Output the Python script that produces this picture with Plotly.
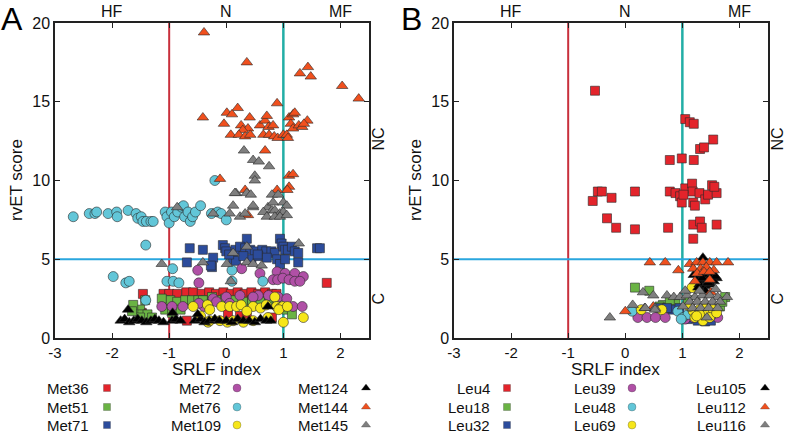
import plotly.graph_objects as go

# ---- Panel A: methionine residues (SRLF index, rvET score) ----
met36_x = [-1.46, 1.76, -1.1, -1.0, -0.86, -0.7, -0.58, -0.43, -0.3, -0.18,
           -0.05, 0.08, 0.2, 0.32, 0.44, 0.56, 0.68, 0.8, 0.88, 0.03,
           0.24, 0.36, 0.8, -0.69, -1.48]
met36_y = [2.8, 3.5, 2.8, 2.8, 2.8, 2.9, 2.9, 2.8, 2.9, 2.8,
           2.9, 2.8, 2.9, 2.8, 2.9, 2.8, 2.9, 2.8, 2.8, 1.5,
           1.4, 1.3, 1.3, 1.1, 1.6]
met51_x = [-1.42, -1.51, -1.47, -1.38, -1.07, -0.98, -0.86, -0.72, -0.6, -0.49,
           -0.37, -0.25, -1.51, -1.30, -1.07, -0.41, 1.06, 1.15, -1.13, -0.15,
           -0.02, 0.12, 0.3, 0.45, 0.6, 0.75, 0.88, -1.63, -1.65, -0.95, -0.8]
met51_y = [2.4, 1.8, 1.5, 1.5, 2.4, 2.4, 2.3, 2.4, 2.4, 2.4,
           2.4, 2.6, 1.3, 1.3, 1.8, 2.4, 1.8, 1.5, 2.5, 2.4,
           2.5, 2.4, 2.3, 2.4, 2.3, 2.4, 2.5, 2.1, 1.7, 1.6, 1.8]
met71_x = [0.36, -0.06, -0.02, 0.0, -0.23, -0.41, 0.16, 0.24, 0.33, 0.42,
           0.5, 0.63, 0.7, 0.79, 0.85, 0.94, 0.97, 1.0, 1.03, 1.08,
           1.15, 1.2, 1.26, 0.89, 0.94, 1.03, 1.26, 0.12, 0.17, -0.25,
           1.59, 1.64, 0.44, 0.56, 0.71, -0.64, -0.69, -0.27, 0.05, 0.3, 0.55]
met71_y = [6.3, 5.9, 5.7, 5.5, 5.1, 5.6, 5.6, 5.8, 5.7, 5.6,
           5.5, 5.6, 5.5, 5.5, 5.4, 6.3, 6.0, 5.8, 5.6, 5.6,
           5.8, 5.5, 5.4, 5.0, 4.7, 5.0, 4.8, 5.0, 4.9, 4.5,
           5.7, 5.7, 5.0, 5.2, 5.1, 5.7, 4.8, 4.6, 5.3, 5.2, 5.3]
met72_x = [0.27, 0.59, 0.89, 1.03, 1.2, 1.35, 0.82, 0.9, 0.99, 1.1,
           1.2, 1.29, -0.5, -0.48, -1.13, -0.95, -0.76, -0.23, 0.0, 0.24,
           0.56, 0.74, 0.91, 1.06, 1.17, 1.33, -0.39, -0.17, 0.06, 0.47, -0.48]
met72_y = [4.4, 4.1, 4.2, 4.1, 4.1, 3.9, 3.7, 3.7, 3.8, 3.7,
           3.6, 3.6, 4.3, 3.5, 2.0, 2.0, 2.0, 2.5, 2.6, 2.7,
           2.7, 2.7, 2.6, 2.5, 2.0, 2.0, 2.0, 2.3, 2.2, 2.6, 2.2]
met76_x = [-2.68, -2.40, -2.30, -2.27, -2.07, -1.92, -1.91, -1.72, -1.58, -1.55,
           -1.49, -1.46, -1.40, -1.32, -1.28, -1.07, -1.04, -1.0, -0.96, -0.91,
           -0.85, -0.78, -0.75, -0.73, -0.67, -0.63, -0.59, -0.54, -0.45, -0.26,
           -0.15, -0.09, 0.0, -0.2, -1.41, -1.98, -1.76, -1.70, -0.94, -1.04,
           -0.93, -0.83, -1.41, 0.1, 0.1, 0.64]
met76_y = [7.7, 7.9, 7.9, 8.0, 7.9, 8.0, 7.7, 8.1, 7.9, 7.6,
           7.7, 7.4, 7.4, 7.4, 7.4, 8.0, 7.7, 7.3, 8.0, 7.7,
           8.0, 8.3, 8.4, 7.7, 8.0, 7.4, 7.7, 8.0, 8.4, 7.9,
           8.0, 7.9, 7.5, 10.0, 5.9, 3.9, 3.5, 3.6, 4.4, 3.6,
           3.6, 3.5, 2.4, 4.3, 3.6, 3.6]
met109_x = [-0.58, -0.33, -0.29, -0.08, 0.06, 0.18, 0.26, 0.47, 0.6, 0.7,
            0.85, 0.88, 0.94, 0.99, 1.35, 1.0, -0.32, -0.11, 0.12, 0.3,
            0.47, 0.73, 0.92, 1.07, -0.29, 0.02, -0.45, 0.36]
met109_y = [2.0, 2.1, 1.8, 2.0, 2.0, 2.0, 2.1, 2.0, 1.9, 2.1,
            2.6, 2.0, 1.9, 2.0, 1.3, 1.0, 1.0, 1.1, 1.1, 1.0,
            1.1, 1.3, 1.8, 2.0, 1.1, 1.0, 1.4, 1.7]
met124_x = [-1.85, -1.78, -1.7, -1.62, -1.55, -1.48, -1.4, -1.32, -1.25, -1.18,
            -1.1, -0.95, -0.88, -0.8, -0.55, -0.45, -0.38, -0.3, -0.2, -0.12,
            0.0, 0.1, 0.2, 0.3, 0.4, 0.5, 0.6, 0.7, 0.78, -1.72, -0.94, -0.5, 0.73]
met124_y = [1.1, 1.2, 1.0, 1.1, 1.2, 1.1, 1.0, 1.1, 1.2, 1.1,
            1.0, 1.1, 1.2, 1.1, 1.1, 1.2, 1.0, 1.1, 1.2, 1.1,
            1.1, 1.0, 1.2, 1.1, 1.1, 1.0, 1.2, 1.1, 1.1, 1.8, 1.6, 1.5, 2.0]
met144_x = [-0.39, 0.36, 1.29, 1.43, 1.48, 2.03, 2.32, 0.89, -0.41, 0.01,
            0.2, 0.1, 0.41, -0.04, 0.26, 0.38, 0.29, 0.08, 0.22, 0.33,
            0.42, 0.59, 0.68, 0.71, 0.74, 0.82, 0.65, 0.75, 0.84, 0.9,
            1.0, 1.06, 1.08, 1.1, 1.17, 1.2, 1.13, 1.17, 1.27, 1.33,
            1.42, 1.36, -0.11, 1.1, 1.17, 0.33, 0.89, 1.1, 1.07, 0.68, 0.38]
met144_y = [19.4, 17.5, 16.8, 17.2, 16.6, 16.0, 15.2, 14.9, 14.0, 14.3,
            14.6, 14.2, 14.0, 13.6, 13.5, 13.3, 13.2, 12.9, 12.9, 12.8,
            12.9, 13.5, 13.8, 14.1, 13.4, 13.5, 12.9, 12.9, 12.8, 12.7,
            12.9, 12.9, 12.7, 14.0, 14.2, 14.3, 13.6, 13.3, 13.5, 13.4,
            13.8, 13.6, 10.1, 10.3, 10.4, 9.4, 9.4, 9.6, 9.4, 11.9, 7.8]
met145_x = [0.31, 0.47, 0.57, 0.75, 0.5, 0.5, 0.17, 0.36, 0.43, 0.8,
            0.91, 0.47, 0.73, 0.82, 1.0, 1.06, 0.65, 0.8, 0.85, 0.94,
            1.0, 0.71, 0.85, 0.94, 1.06, -0.86, 0.12, 0.15, 0.47, -0.23,
            0.06, 0.24, 0.33, 0.12, 0.36, 1.27, -1.13, -0.41, 0.01, 0.36,
            0.47, 0.62, 0.08]
met145_y = [11.9, 11.3, 11.2, 10.9, 10.3, 10.0, 9.2, 9.2, 9.1, 9.1,
            9.1, 8.3, 8.3, 8.6, 8.6, 8.4, 8.0, 8.1, 8.1, 7.9,
            8.0, 7.7, 7.7, 7.7, 7.8, 8.3, 8.4, 9.2, 8.4, 7.9,
            7.9, 7.7, 7.9, 5.4, 5.8, 6.0, 4.7, 4.8, 4.7, 4.8,
            4.7, 4.6, 3.6]

# ---- Panel B: leucine residues ----
leu4_x = [-0.53, 1.05, 1.13, 1.2, 1.31, 1.38, 1.54, 0.78, 0.99, 1.2,
          -0.57, -0.48, -0.41, -0.24, 0.17, -0.32, -0.16, 0.17, 0.75, 0.78,
          0.88, 0.96, 1.05, 0.99, 1.17, 1.18, 1.19, 1.22, 1.3, 1.4,
          1.45, 1.52, 1.6, 1.19, 1.31, 1.34, 1.6, 1.19, 1.02, 1.56]
leu4_y = [15.7, 13.9, 13.7, 13.6, 12.0, 12.1, 12.6, 11.3, 11.4, 11.3,
          8.7, 9.3, 9.3, 8.9, 9.3, 7.6, 7.0, 6.9, 7.0, 9.3,
          9.2, 9.0, 9.5, 8.6, 9.8, 9.3, 8.6, 8.4, 9.2, 8.8,
          9.1, 9.7, 9.2, 7.2, 7.4, 7.0, 7.2, 6.3, 9.1, 9.6]
leu18_x = [0.17, 0.42, 0.66, 0.88, 0.78, 1.1, 1.75, 1.66, 1.7, 0.6]
leu18_y = [3.2, 3.0, 2.1, 2.3, 2.4, 2.4, 2.6, 2.0, 2.3, 2.0]
leu32_x = [0.82, 0.95, 1.27, 1.4, 1.2, 1.5, 0.61, 0.73, 1.1, 1.35, 1.55]
leu32_y = [1.8, 1.9, 1.1, 1.05, 1.5, 1.1, 1.9, 1.9, 1.2, 1.3, 1.4]
leu39_x = [0.22, 0.38, 0.53, 0.7, 1.62, 1.19, 1.5, 1.05, 1.35]
leu39_y = [1.3, 1.3, 1.3, 1.3, 1.3, 1.3, 1.4, 1.2, 1.2]
leu48_x = [0.12, 0.92, 1.01, 1.1, 0.98]
leu48_y = [1.7, 1.7, 1.3, 1.5, 1.2]
leu69_x = [0.28, 0.64, 1.17, 1.19, 1.3, 1.43, 1.54, 1.22, 1.36, 1.48,
           1.3, 1.4, 1.13, 1.25, 1.6]
leu69_y = [1.8, 1.8, 3.2, 1.7, 1.8, 1.7, 1.8, 1.3, 1.1, 1.3,
           1.5, 2.1, 2.0, 1.4, 1.6]
leu105_x = [1.2, 1.3, 1.4, 1.5, 1.6, 1.25, 1.35, 1.45, 1.55, 1.3,
            1.4, 1.5, 1.4, 1.36, 1.45, 1.35, 1.28, 1.58]
leu105_y = [4.0, 3.9, 4.0, 3.9, 3.8, 3.7, 3.6, 3.7, 3.6, 3.4,
            3.3, 3.4, 3.0, 5.1, 3.5, 3.8, 3.2, 3.9]
leu112_x = [0.43, 0.7, 0.93, 1.8, 1.13, 1.25, 1.36, 1.48, 1.6, 1.19,
            1.32, 1.42, 1.55, 1.26, 1.38, 1.48, 1.22, 1.48, 0.49, 0.0, 1.5]
leu112_y = [4.8, 4.8, 4.3, 4.8, 4.7, 4.8, 4.8, 4.8, 4.8, 4.4,
            4.4, 4.5, 4.3, 4.1, 4.2, 4.2, 3.6, 3.7, 2.0, 1.7, 2.9]
leu116_x = [-0.27, 0.13, 0.31, 0.49, 0.34, 0.52, 0.73, 0.85, 0.96, 1.08,
            1.22, 1.35, 1.48, 1.62, 1.78, 1.13, 1.26, 1.4, 1.53, 1.66,
            1.01, 1.18, 1.32, 1.46, 1.62, 1.43, 0.52, 0.35, 1.58, 1.05, 1.3]
leu116_y = [1.3, 2.1, 2.9, 2.7, 1.9, 1.9, 2.7, 2.6, 2.6, 2.7,
            2.6, 2.7, 2.7, 2.6, 2.6, 2.3, 2.3, 2.3, 2.3, 2.3,
            2.0, 1.9, 1.9, 1.9, 1.9, 1.3, 1.8, 1.9, 3.1, 3.0, 3.0]

x_ticks = [-3, -2, -1, 0, 1, 2]
x_tick_text = ["-3", "-2", "-1", "0", "1", "2"]
y_ticks = [0, 5, 10, 15, 20]
region_labels = ["HF", "N", "MF"]
region_pos = [-2, 0, 2]

W, H = 787, 434
FONT = "Liberation Sans, Arial, sans-serif"

RED = "#e3242b"
GREEN = "#6ab344"
BLUE = "#2c4c9c"
PURPLE = "#b050a6"
CYAN = "#62c6d8"
YELLOW = "#f6e61a"
BLACK = "#000000"
ORANGE = "#f0501e"
GRAY = "#7f7f7f"

panel_a = [
    ("Met36", met36_x, met36_y, "square", RED),
    ("Met51", met51_x, met51_y, "square", GREEN),
    ("Met71", met71_x, met71_y, "square", BLUE),
    ("Met72", met72_x, met72_y, "circle", PURPLE),
    ("Met76", met76_x, met76_y, "circle", CYAN),
    ("Met109", met109_x, met109_y, "circle", YELLOW),
    ("Met124", met124_x, met124_y, "triangle-up", BLACK),
    ("Met144", met144_x, met144_y, "triangle-up", ORANGE),
    ("Met145", met145_x, met145_y, "triangle-up", GRAY),
]
panel_b = [
    ("Leu4", leu4_x, leu4_y, "square", RED),
    ("Leu18", leu18_x, leu18_y, "square", GREEN),
    ("Leu32", leu32_x, leu32_y, "square", BLUE),
    ("Leu39", leu39_x, leu39_y, "circle", PURPLE),
    ("Leu48", leu48_x, leu48_y, "circle", CYAN),
    ("Leu69", leu69_x, leu69_y, "circle", YELLOW),
    ("Leu105", leu105_x, leu105_y, "triangle-up", BLACK),
    ("Leu112", leu112_x, leu112_y, "triangle-up", ORANGE),
    ("Leu116", leu116_x, leu116_y, "triangle-up", GRAY),
]

SIZES = {"square": 9, "circle": 10, "triangle-up": 10}
LEG_SIZES = {"square": 7, "circle": 8, "triangle-up": 8}

fig = go.Figure()


def px(p):
    return p / W


def py(p):
    return 1 - p / H


panels = [
    # (series, xaxis, yaxis, left px, legend text right edges, legend marker x, letter)
    (panel_a, "x", "y", 55, [91, 223, 350], [107, 237, 366], "A"),
    (panel_b, "x2", "y2", 454, [492, 618, 748], [507, 632, 765], "B"),
]
leg_rows = [388, 407, 425]

annotations = []
shapes = []
for series, xa, ya, left, leg_txt, leg_mk, letter in panels:
    for name, xs, ys, sym, col in series:
        fig.add_trace(go.Scatter(
            x=xs, y=ys, mode="markers", name=name, xaxis=xa, yaxis=ya,
            marker=dict(symbol=sym, size=SIZES[sym], color=col,
                        line=dict(color="rgba(40,40,40,0.85)", width=0.7)),
            showlegend=False,
        ))

    # custom legend: text right-aligned, marker to the right
    for i, (name, xs, ys, sym, col) in enumerate(series):
        c, r = divmod(i, 3)
        annotations.append(dict(
            text=name, xref="paper", yref="paper", x=px(leg_txt[c]), y=py(leg_rows[r]),
            xanchor="right", yanchor="middle", showarrow=False,
            font=dict(size=15, color="#111", family=FONT),
        ))
        fig.add_trace(go.Scatter(
            x=[leg_mk[c]], y=[leg_rows[r]], mode="markers", xaxis="x3", yaxis="y3",
            marker=dict(symbol=sym, size=LEG_SIZES[sym], color=col,
                        line=dict(color="rgba(60,60,60,0.6)", width=0.5)),
            showlegend=False, hoverinfo="skip",
        ))

    # reference lines
    shapes += [
        dict(type="line", xref=xa, yref=ya, x0=-1, x1=-1, y0=0, y1=20,
             line=dict(color="#c8303c", width=2), layer="below"),
        dict(type="line", xref=xa, yref=ya, x0=1, x1=1, y0=0, y1=20,
             line=dict(color="#22aea6", width=2.5), layer="below"),
        dict(type="line", xref=xa, yref=ya, x0=-3, x1=2.5, y0=5, y1=5,
             line=dict(color="#2aa6de", width=2), layer="below"),
    ]

    for lab, pos in zip(region_labels, region_pos):
        annotations.append(dict(
            text=lab, xref=xa, yref="paper", x=pos, y=py(12),
            xanchor="center", yanchor="middle", showarrow=False,
            font=dict(size=16, color="#111", family=FONT),
        ))
    right = left + 314
    annotations += [
        dict(text="NC", xref="paper", yref=ya, x=px(right + 10), y=12.6,
             textangle=-90, showarrow=False, xanchor="center", yanchor="middle",
             font=dict(size=16, color="#111", family=FONT)),
        dict(text="C", xref="paper", yref=ya, x=px(right + 10), y=2.5,
             textangle=-90, showarrow=False, xanchor="center", yanchor="middle",
             font=dict(size=16, color="#111", family=FONT)),
        dict(text="SRLF index", xref="paper", yref="paper", x=px(left + 161), y=py(369),
             showarrow=False, xanchor="center", yanchor="middle",
             font=dict(size=17, color="#111", family=FONT)),
        dict(text="rvET score", xref="paper", yref="paper", x=px(left - 39), y=py(180),
             textangle=-90, showarrow=False, xanchor="center", yanchor="middle",
             font=dict(size=17, color="#111", family=FONT)),
        dict(text=letter, xref="paper", yref="paper", x=px(left - 43), y=py(19),
             showarrow=False, xanchor="center", yanchor="middle",
             font=dict(size=32, color="#000", family=FONT)),
    ]

x_common = dict(range=[-3, 2.5], tickvals=x_ticks, ticktext=x_tick_text,
                ticks="inside", ticklen=5, tickwidth=1.3,
                tickcolor="#222", showline=True, linecolor="#222", linewidth=1.5,
                mirror="ticks", showgrid=False, zeroline=False, automargin=False,
                tickfont=dict(size=15, color="#111", family=FONT))
y_common = dict(range=[0, 20], tickvals=y_ticks, ticks="inside", ticklen=5, tickwidth=1.3,
                tickcolor="#222", showline=True, linecolor="#222", linewidth=1.5,
                mirror="ticks", showgrid=False, zeroline=False, automargin=False,
                tickfont=dict(size=16, color="#111", family=FONT),
                domain=[1 - 338 / H, 1 - 23 / H])

fig.update_layout(
    width=W, height=H,
    margin=dict(l=0, r=0, t=0, b=0, autoexpand=False),
    paper_bgcolor="white",
    plot_bgcolor="rgba(0,0,0,0)",
    showlegend=False,
    font=dict(family=FONT, color="#111"),
    xaxis=dict(domain=[55 / W, 369 / W], anchor="y", **x_common),
    yaxis=dict(anchor="x", **y_common),
    xaxis2=dict(domain=[454 / W, 768 / W], anchor="y2", **x_common),
    yaxis2=dict(anchor="x2", **y_common),
    xaxis3=dict(domain=[0, 1], range=[0, W], visible=False, anchor="y3",
                fixedrange=True, automargin=False),
    yaxis3=dict(domain=[0, 1], range=[H, 0], visible=False, anchor="x3",
                fixedrange=True, automargin=False),
    shapes=shapes,
    annotations=annotations,
)

# drop the browser's default 8px body margin so the figure sits at the page origin
fig.write_html("out.html", config={"displayModeBar": False},
               post_script="document.body.style.margin='0';")
